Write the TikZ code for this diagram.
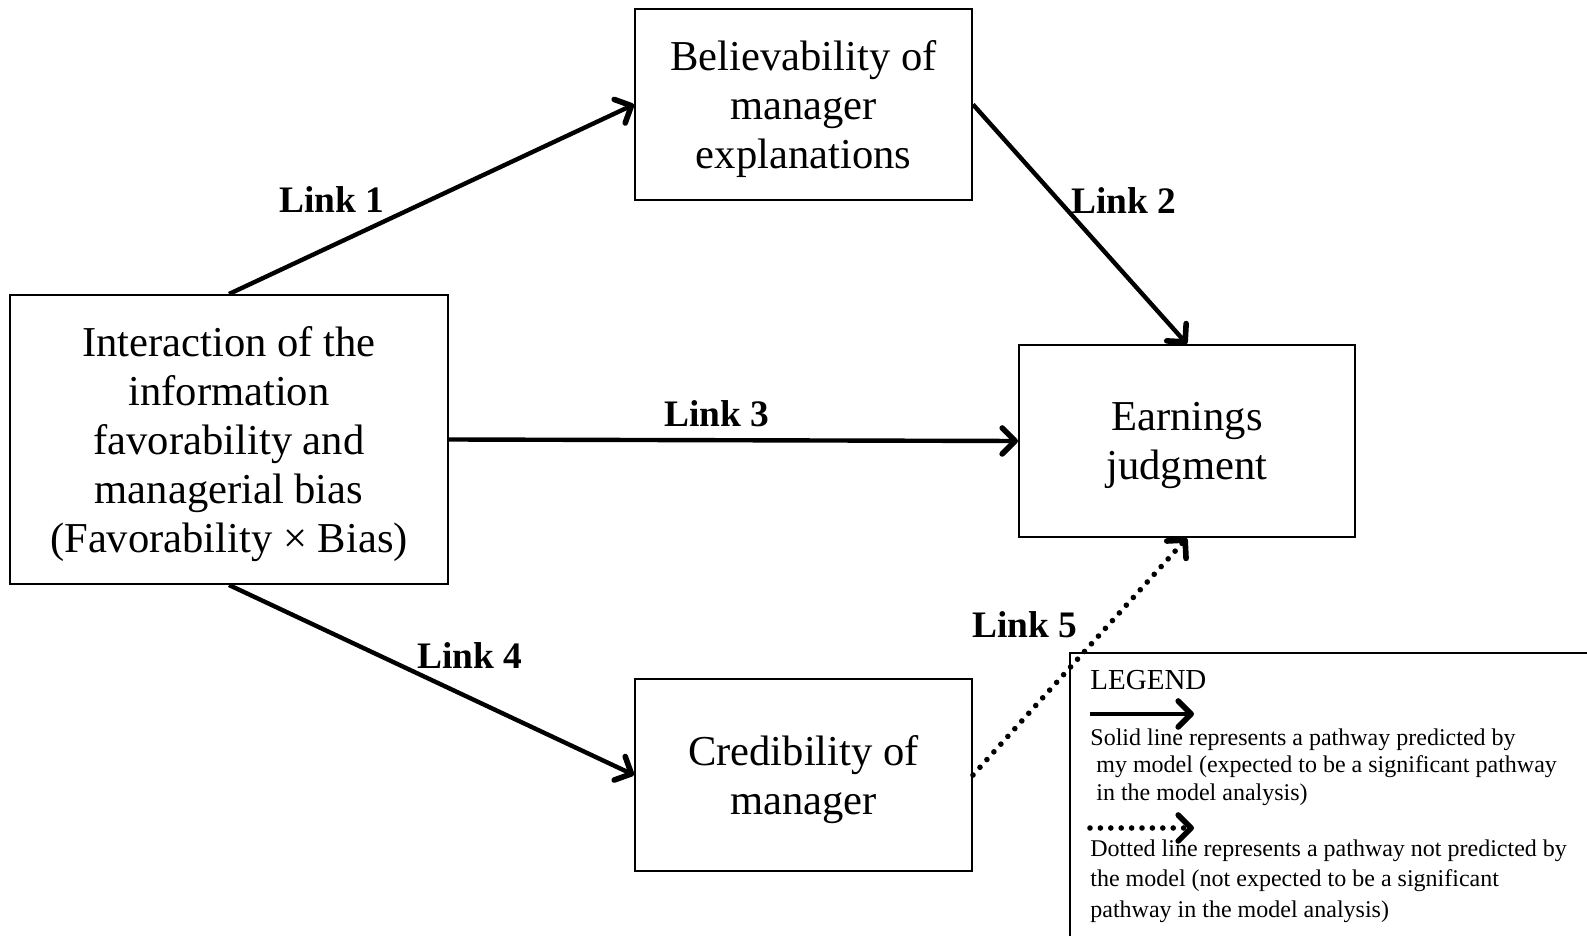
\documentclass[tikz,border=0pt]{standalone}
\usepackage{fontspec}
\setmainfont{Liberation Serif}
\usetikzlibrary{arrows.meta}

\begin{document}
\begin{tikzpicture}[x=0.5pt, y=-0.5pt,
    box/.style={draw, line width=1pt, align=center, inner sep=0pt, text depth=-1.4pt,
        font=\fontsize{21.3}{24.6}\selectfont},
    link/.style={line width=2.2pt, -{Straight Barb[length=6.5pt, width=13pt, round, line width=2.8pt]}},
    dotlink/.style={link, line cap=round, dash pattern=on 0pt off 5.2pt, line width=2.8pt},
    linklabel/.style={font=\fontsize{18.7}{20}\selectfont\bfseries},
    legtext/.style={align=left, inner sep=0pt, anchor=north west}]

    \useasboundingbox (0,0) rectangle (1587,936);

    % Boxes
    \node[box, minimum width=168.5pt, minimum height=95.5pt] (belief) at (803.5,104.5)
        {Believability of\\manager\\explanations};
    \node[box, minimum width=219pt, minimum height=144.5pt] (inter) at (229,439.5)
        {Interaction of the\\information\\favorability and\\managerial bias\\(Favorability × Bias)};
    \node[box, minimum width=168pt, minimum height=96pt] (earn) at (1187,441)
        {Earnings\\judgment};
    \node[box, minimum width=168.5pt, minimum height=96pt] (cred) at (803.5,775)
        {Credibility of\\manager};

    % Links
    \draw[link] (inter.north) -- (belief.west);
    \draw[link] (belief.east) -- (earn.north);
    \draw[link] (inter.east) -- (earn.west);
    \draw[link] (inter.south) -- (cred.west);
    \draw[dotlink] (cred.east) -- (earn.south);

    \node[linklabel] (lab1) at (332,200) {Link 1};
    \node[linklabel] (lab2) at (1124,201) {Link 2};
    \node[linklabel] (lab3) at (717,414) {Link 3};
    \node[linklabel] (lab4) at (470,656) {Link 4};
    \node[linklabel] (lab5) at (1025,625) {Link 5};

    % Legend
    \draw[line width=1pt] (1070,936) -- (1070,653) -- (1587,653);
    \node[anchor=west, inner sep=0pt, font=\fontsize{14.5}{16}\selectfont] (legtitle) at (1090,680) {LEGEND};

    \coordinate (solA) at (1090,714);
    \coordinate (solB) at (1194,714);
    \draw[link] (solA) -- (solB);
    \node[legtext, font=\fontsize{12}{13.9}\selectfont] (legsolid) at (1090,728)
        {Solid line represents a pathway predicted by\\
         \hspace*{0.25em}my model (expected to be a significant pathway\\
         \hspace*{0.25em}in the model analysis)};

    \coordinate (dotA) at (1090,828);
    \coordinate (dotB) at (1194,828);
    \draw[dotlink] (dotA) -- (dotB);
    \node[legtext, font=\fontsize{12}{15.4}\selectfont] (legdotted) at (1090,839)
        {Dotted line represents a pathway not predicted by\\
         the model (not expected to be a significant\\
         pathway in the model analysis)};

\end{tikzpicture}
\end{document}
